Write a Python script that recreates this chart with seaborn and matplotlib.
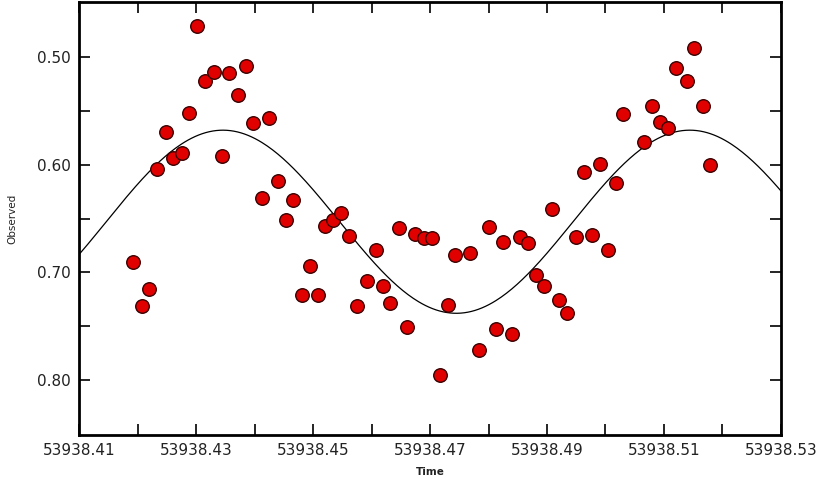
import numpy as np
import pandas as pd
import seaborn as sns
import matplotlib.pyplot as plt

# observed points (time in days, observed value)
time = [53938.4192, 53938.4207, 53938.4220, 53938.4234, 53938.4248, 53938.4260,
        53938.4276, 53938.4288, 53938.4302, 53938.4315, 53938.4330, 53938.4344,
        53938.4356, 53938.4371, 53938.4385, 53938.4398, 53938.4412, 53938.4425,
        53938.4440, 53938.4453, 53938.4466, 53938.4481, 53938.4494, 53938.4508,
        53938.4521, 53938.4534, 53938.4548, 53938.4562, 53938.4576, 53938.4593,
        53938.4607, 53938.4620, 53938.4632, 53938.4647, 53938.4661, 53938.4674,
        53938.4689, 53938.4703, 53938.4717, 53938.4731, 53938.4743, 53938.4768,
        53938.4783, 53938.4800, 53938.4812, 53938.4825, 53938.4840, 53938.4853,
        53938.4867, 53938.4881, 53938.4895, 53938.4908, 53938.4921, 53938.4935,
        53938.4949, 53938.4964, 53938.4977, 53938.4991, 53938.5005, 53938.5018,
        53938.5030, 53938.5066, 53938.5080, 53938.5093, 53938.5107, 53938.5121,
        53938.5139, 53938.5151, 53938.5166, 53938.5179]
observed = [0.690, 0.731, 0.715, 0.604, 0.570, 0.594,
            0.589, 0.552, 0.471, 0.522, 0.514, 0.592,
            0.515, 0.535, 0.508, 0.561, 0.631, 0.557,
            0.615, 0.651, 0.633, 0.721, 0.694, 0.721,
            0.657, 0.651, 0.645, 0.666, 0.731, 0.708,
            0.679, 0.713, 0.728, 0.659, 0.751, 0.664,
            0.668, 0.668, 0.795, 0.730, 0.684, 0.682,
            0.772, 0.658, 0.753, 0.672, 0.757, 0.667,
            0.673, 0.702, 0.713, 0.641, 0.726, 0.738,
            0.667, 0.607, 0.665, 0.599, 0.679, 0.617,
            0.553, 0.579, 0.546, 0.560, 0.566, 0.510,
            0.522, 0.492, 0.546, 0.600]

# fitted sine model
fit_mean = 0.653
fit_amp = 0.085
fit_period = 0.0798
fit_epoch = 53938.4346

x_major = [53938.41, 53938.43, 53938.45, 53938.47, 53938.49, 53938.51, 53938.53]
x_labels = ['53938.41', '53938.43', '53938.45', '53938.47', '53938.49', '53938.51', '53938.53']
x_minor = [53938.42, 53938.44, 53938.46, 53938.48, 53938.50, 53938.52]
y_major = [0.50, 0.60, 0.70, 0.80]
y_labels = ['0.50', '0.60', '0.70', '0.80']
y_minor = [0.55, 0.65, 0.75]

df = pd.DataFrame({"Time": time, "Observed": observed})
t = np.linspace(x_major[0], x_major[-1], 400)
model = pd.DataFrame({"Time": t,
                      "Observed": fit_mean - fit_amp * np.cos(2 * np.pi * (t - fit_epoch) / fit_period)})

fig = plt.figure(figsize=(8.24, 4.88), dpi=100)
ax = fig.add_axes([0.0959, 0.1086, 0.8519, 0.8873])

sns.lineplot(data=model, x="Time", y="Observed", color="black", linewidth=0.9, ax=ax)
sns.scatterplot(data=df, x="Time", y="Observed", color="#e00000", edgecolor="#3a0000",
                linewidth=1.0, s=95, ax=ax, zorder=3)

ax.set_xlim(x_major[0], x_major[-1])
ax.set_ylim(0.851, 0.449)
ax.set_xticks(x_major)
ax.set_xticklabels(x_labels)
ax.set_xticks(x_minor, minor=True)
ax.set_yticks(y_major)
ax.set_yticklabels(y_labels)
ax.set_yticks(y_minor, minor=True)

ax.tick_params(which='both', direction='in', top=True, right=True, width=1.2, color='black', length=8)
ax.tick_params(which='major', labelsize=11, labelcolor='#222222', pad=6)
for s in ax.spines.values():
    s.set_linewidth(2)

ax.set_xlabel("Time", fontsize=7.5, fontweight='bold', color='#222222', labelpad=6)
ax.set_ylabel("Observed", fontsize=7.5, color='#222222', labelpad=14)

plt.savefig('out.png', dpi=100)
